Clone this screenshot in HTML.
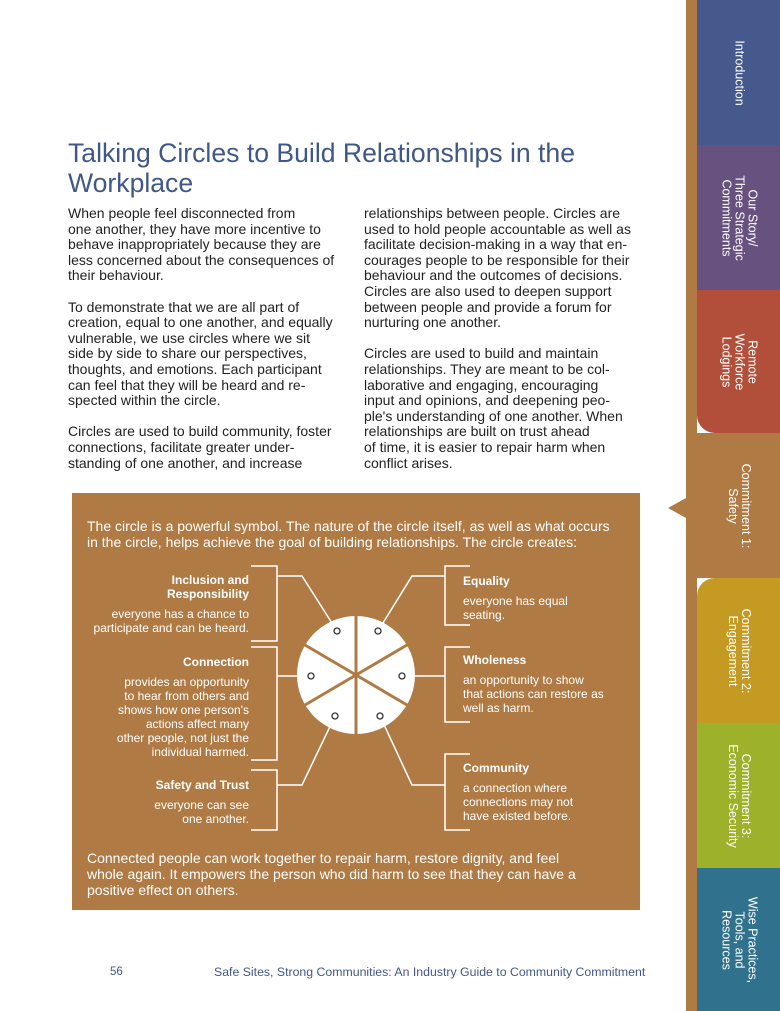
<!DOCTYPE html>
<html><head><style>
body{margin:0;width:780px;height:1011px;background:#fff;position:relative;overflow:hidden;font-family:"Liberation Sans",sans-serif;}
.abs{position:absolute}
h1{position:absolute;left:68px;top:138px;margin:0;font-weight:normal;font-size:26.6px;line-height:30px;color:#3f5889;width:600px}
.col{position:absolute;font-size:14px;line-height:15.6px;color:#222;white-space:nowrap}
.col p{margin:0 0 15.6px 0}
.tab{position:absolute;left:697px;width:83px;color:#fff;font-size:12.5px;line-height:13px;}
.tab span{position:absolute;left:50%;top:50%;transform:translate(-50%,-50%) rotate(90deg);white-space:nowrap;text-align:center}
.box{position:absolute;left:72px;top:493px;width:568px;height:417px;background:#b07a44}
.w{color:#fff;white-space:nowrap}
.lb{position:absolute;color:#fff;font-size:12px;line-height:14px;white-space:nowrap}
.lb b{display:block;margin-bottom:6px}
</style></head><body>
<div class="abs" style="left:686px;top:0;width:11px;height:1011px;background:#b07a44"></div>
<div class="tab" style="top:0;height:145px;background:#45598c"><span>Introduction</span></div>
<div class="tab" style="top:145px;height:145px;background:#67517f"><span>Our Story/<br>Three Strategic<br>Commitments</span></div>
<div class="tab" style="top:290px;height:143px;background:#b14f3a;border-bottom-left-radius:18px"><span>Remote<br>Workforce<br>Lodgings</span></div>
<div class="tab" style="top:433px;height:145px;background:#b07a44"><span>Commitment 1:<br>Safety</span></div>
<div class="abs" style="left:668px;top:498px;width:0;height:0;border-top:10px solid transparent;border-bottom:10px solid transparent;border-right:18px solid #b07a44"></div>
<div class="tab" style="top:578px;height:145px;background:#c49a22;border-top-left-radius:18px"><span>Commitment 2:<br>Engagement</span></div>
<div class="tab" style="top:723px;height:145px;background:#9db12a"><span>Commitment 3:<br>Economic Security</span></div>
<div class="tab" style="top:868px;height:143px;background:#30728e"><span>Wise Practices,<br>Tools, and<br>Resources</span></div>

<h1>Talking Circles to Build Relationships in the<br>Workplace</h1>
<div class="col" style="left:68px;top:206px">
<p>When people feel disconnected from<br>one another, they have more incentive to<br>behave inappropriately because they are<br>less concerned about the consequences of<br>their behaviour.</p>
<p>To demonstrate that we are all part of<br>creation, equal to one another, and equally<br>vulnerable, we use circles where we sit<br>side by side to share our perspectives,<br>thoughts, and emotions. Each participant<br>can feel that they will be heard and re-<br>spected within the circle.</p>
<p>Circles are used to build community, foster<br>connections, facilitate greater under-<br>standing of one another, and increase</p>
</div>
<div class="col" style="left:364px;top:206px">
<p>relationships between people. Circles are<br>used to hold people accountable as well as<br>facilitate decision-making in a way that en-<br>courages people to be responsible for their<br>behaviour and the outcomes of decisions.<br>Circles are also used to deepen support<br>between people and provide a forum for<br>nurturing one another.</p>
<p>Circles are used to build and maintain<br>relationships. They are meant to be col-<br>laborative and engaging, encouraging<br>input and opinions, and deepening peo-<br>ple's understanding of one another. When<br>relationships are built on trust ahead<br>of time, it is easier to repair harm when<br>conflict arises.</p>
</div>

<div class="box"></div>
<div class="abs w" style="left:87px;top:518px;font-size:14px;line-height:16px">The circle is a powerful symbol. The nature of the circle itself, as well as what occurs<br>in the circle, helps achieve the goal of building relationships. The circle creates:</div>
<div class="abs w" style="left:87px;top:850px;font-size:14px;line-height:16px">Connected people can work together to repair harm, restore dignity, and feel<br>whole again. It empowers the person who did harm to see that they can have a<br>positive effect on others.</div>

<svg class="abs" style="left:0;top:0" width="780" height="1011">
<g stroke="#fff" stroke-width="1.5" fill="none">
<path d="M251 566H277V641H251M251 647H277V760H251M251 770H277V830H251"/>
<path d="M470 566H445V625H470M470 647H445V722H470M470 754H445V830H470"/>
<path d="M277 576H302L337 631M445 576H412L378 631M277 676H311M445 676H402M277 785H302L335 716M445 785H412L380 716"/>
</g>
<circle cx="356" cy="675" r="59" fill="#fff"/>
<g stroke="#b07a44" stroke-width="3">
<line x1="356" y1="675" x2="356" y2="614"/><line x1="356" y1="675" x2="356" y2="736"/>
<line x1="356" y1="675" x2="305" y2="645"/><line x1="356" y1="675" x2="407" y2="645"/>
<line x1="356" y1="675" x2="305" y2="705"/><line x1="356" y1="675" x2="407" y2="705"/>
</g>
<g fill="#fff" stroke="#333" stroke-width="1.3">
<circle cx="337" cy="631" r="3"/><circle cx="378" cy="631" r="3"/><circle cx="311" cy="676" r="3"/><circle cx="402" cy="676" r="3"/><circle cx="335" cy="716" r="3"/><circle cx="380" cy="716" r="3"/>
</g>
</svg>

<div class="lb" style="right:531px;top:573px;text-align:right"><b>Inclusion and<br>Responsibility</b>everyone has a chance to<br>participate and can be heard.</div>
<div class="lb" style="right:531px;top:655px;text-align:right"><b>Connection</b>provides an opportunity<br>to hear from others and<br>shows how one person's<br>actions affect many<br>other people, not just the<br>individual harmed.</div>
<div class="lb" style="right:531px;top:778px;text-align:right"><b>Safety and Trust</b>everyone can see<br>one another.</div>
<div class="lb" style="left:463px;top:574px"><b>Equality</b>everyone has equal<br>seating.</div>
<div class="lb" style="left:463px;top:653px"><b>Wholeness</b>an opportunity to show<br>that actions can restore as<br>well as harm.</div>
<div class="lb" style="left:463px;top:761px"><b>Community</b>a connection where<br>connections may not<br>have existed before.</div>

<div class="abs" style="left:110px;top:966px;font-size:11.5px;color:#3f5889">56</div>
<div class="abs" style="left:214px;top:965px;font-size:12.3px;color:#3f5889;white-space:nowrap">Safe Sites, Strong Communities: An Industry Guide to Community Commitment</div>
</body></html>
